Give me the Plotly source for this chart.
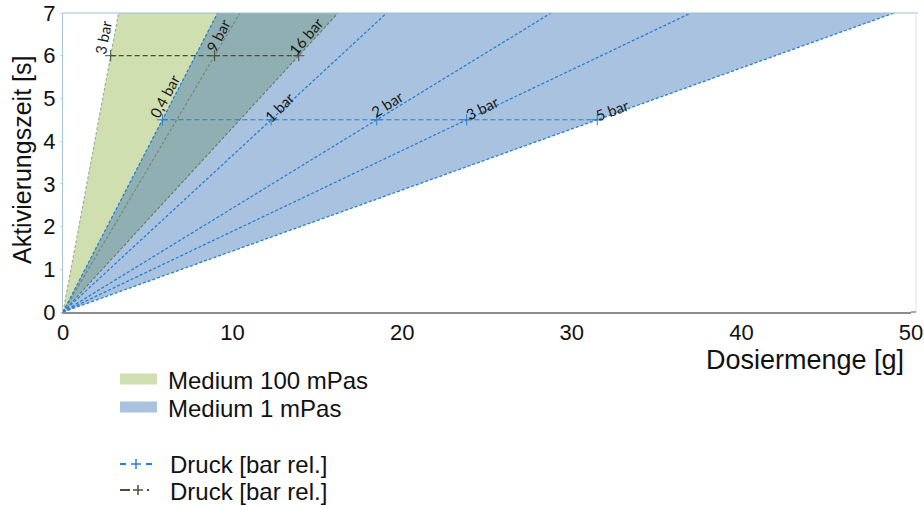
import plotly.graph_objects as go

# ---------------- data ----------------
t_max = 7.0
# Medium 1 mPas: dosing amount [g] reached at 4.5 s for each pressure
labels_1mPas = ["0,4 bar", "1 bar", "2 bar", "3 bar", "5 bar"]
dose_1mPas = [5.86, 12.27, 18.5, 23.8, 31.5]
t_ref_1mPas = 4.5
# Medium 100 mPas: dosing amount [g] reached at 6 s for each pressure
labels_100mPas = ["3 bar", "9 bar", "16 bar"]
dose_100mPas = [2.81, 8.94, 13.9]
t_ref_100mPas = 6.0

x_ticks = [0, 10, 20, 30, 40, 50]
y_ticks = [0, 1, 2, 3, 4, 5, 6, 7]

# ---------------- styles ----------------
GREEN_FILL = "rgb(207,223,176)"
BLUE_FILL = "rgb(169,194,223)"
OVERLAP_FILL = "rgb(143,175,178)"
BLUE_LINE = "rgb(38,128,212)"
OLIVE_LINE = "rgb(70,80,50)"
GREEN_LINES = ["rgb(160,168,150)", "rgb(120,132,118)", "rgb(104,122,96)"]
FONT = "Liberation Sans"

# plot area in page pixels (body margin removed via post_script)
W, H = 924, 506
L, R, T, B = 63, 911, 13, 312


def px(xp, yp):
    return (xp - L) / (R - L), (B - yp) / (B - T)


def top_x(dose, tref):
    return dose * t_max / tref


fig = go.Figure()

# --- regions ---
g_left = top_x(dose_100mPas[0], t_ref_100mPas)
g_right = top_x(dose_100mPas[-1], t_ref_100mPas)
b_left = top_x(dose_1mPas[0], t_ref_1mPas)
b_right = top_x(dose_1mPas[-1], t_ref_1mPas)

fig.add_trace(go.Scatter(x=[0, g_left, g_right, 0], y=[0, t_max, t_max, 0],
                         fill="toself", fillcolor=GREEN_FILL, mode="lines",
                         line=dict(width=0), hoverinfo="skip", showlegend=False))
fig.add_trace(go.Scatter(x=[0, b_left, b_right, 0], y=[0, t_max, t_max, 0],
                         fill="toself", fillcolor=BLUE_FILL, mode="lines",
                         line=dict(width=0), hoverinfo="skip", showlegend=False))
fig.add_trace(go.Scatter(x=[0, b_left, g_right, 0], y=[0, t_max, t_max, 0],
                         fill="toself", fillcolor=OVERLAP_FILL, mode="lines",
                         line=dict(width=0), hoverinfo="skip", showlegend=False))

# --- pressure lines 100 mPas ---
for d, c in zip(dose_100mPas, GREEN_LINES):
    fig.add_trace(go.Scatter(x=[0, top_x(d, t_ref_100mPas)], y=[0, t_max], mode="lines",
                             line=dict(color=c, width=1.1, dash="3px,2px"),
                             hoverinfo="skip", showlegend=False))

# --- pressure lines 1 mPas ---
for d in dose_1mPas:
    fig.add_trace(go.Scatter(x=[0, top_x(d, t_ref_1mPas)], y=[0, t_max], mode="lines",
                             line=dict(color=BLUE_LINE, width=1.3, dash="3px,2px"),
                             hoverinfo="skip", showlegend=False))

# --- horizontal reference lines ---
fig.add_trace(go.Scatter(x=dose_1mPas, y=[t_ref_1mPas] * len(dose_1mPas), mode="lines+markers",
                         line=dict(color=BLUE_LINE, width=1.1, dash="5px,3px"),
                         marker=dict(symbol="cross-thin", size=8, line=dict(color=BLUE_LINE, width=1)),
                         hoverinfo="skip", showlegend=False))
fig.add_trace(go.Scatter(x=dose_100mPas, y=[t_ref_100mPas] * len(dose_100mPas), mode="lines+markers",
                         line=dict(color=OLIVE_LINE, width=1.2, dash="5px,3px"),
                         marker=dict(symbol="cross-thin", size=8, line=dict(color=OLIVE_LINE, width=1)),
                         hoverinfo="skip", showlegend=False))

# --- rotated pressure labels ---
lab_style_100 = [(-8, 18, -79), (3, 20, -63), (7, 20, -50)]
lab_style_1 = [(2, 24, -62), (8, 13, -45), (10, 16, -33), (15, 12, -26), (15, 10, -20)]
for lab, d, (xs, ys, ang) in zip(labels_100mPas, dose_100mPas, lab_style_100):
    fig.add_annotation(x=d, y=t_ref_100mPas, text=lab, showarrow=False, textangle=ang,
                       xshift=xs, yshift=ys, xanchor="center", yanchor="middle",
                       font=dict(family="Lato", size=15, color="#1a1a1a"))
for lab, d, (xs, ys, ang) in zip(labels_1mPas, dose_1mPas, lab_style_1):
    fig.add_annotation(x=d, y=t_ref_1mPas, text=lab, showarrow=False, textangle=ang,
                       xshift=xs, yshift=ys, xanchor="center", yanchor="middle",
                       font=dict(family="Lato", size=15, color="#1a1a1a"))

# --- axis titles ---
xx, yy = px(22, 160)
fig.add_annotation(xref="paper", yref="paper", x=xx, y=yy, text="Aktivierungszeit [s]",
                   textangle=-90, showarrow=False, xanchor="center", yanchor="middle",
                   font=dict(family=FONT, size=25, color="#111"))
xx, yy = px(805, 360)
fig.add_annotation(xref="paper", yref="paper", x=xx, y=yy, text="Dosiermenge [g]",
                   showarrow=False, xanchor="center", yanchor="middle",
                   font=dict(family=FONT, size=27, color="#111"))

# --- frame lines ---
shapes = []
x0, y0 = px(L, T)
x1, _ = px(918, T)
shapes.append(dict(type="line", xref="paper", yref="paper", x0=x0, x1=x1, y0=y0, y1=y0,
                   line=dict(color="rgb(160,192,208)", width=1.2)))
xr, yb = px(916, B)
shapes.append(dict(type="line", xref="paper", yref="paper", x0=xr, x1=xr, y0=yb, y1=y0,
                   line=dict(color="rgb(225,225,225)", width=1)))
xe, _ = px(916, B)
shapes.append(dict(type="line", xref="paper", yref="paper", x0=1, x1=xe, y0=0, y1=0,
                   line=dict(color="rgb(140,140,140)", width=1.5)))

# --- custom legend ---
legend_fill = [("Medium 100 mPas", GREEN_FILL, 379), ("Medium 1 mPas", BLUE_FILL, 407)]
for text, col, yc in legend_fill:
    a0, b0 = px(120, yc - 5.5)
    a1, b1 = px(157, yc + 5.5)
    shapes.append(dict(type="rect", xref="paper", yref="paper", x0=a0, x1=a1, y0=b0, y1=b1,
                       fillcolor=col, line=dict(width=0)))
    tx, ty = px(166, yc + 1)
    fig.add_annotation(xref="paper", yref="paper", x=tx, y=ty, text=text, showarrow=False,
                       xanchor="left", yanchor="middle", font=dict(family=FONT, size=24, color="#111"))


def seg(xa, xb, yc, col, w=2):
    a0, b0 = px(xa, yc)
    a1, _ = px(xb, yc)
    return dict(type="line", xref="paper", yref="paper", x0=a0, x1=a1, y0=b0, y1=b0,
                line=dict(color=col, width=w))


def vseg(xc, ya, yb_, col, w=1.5):
    a0, b0 = px(xc, ya)
    _, b1 = px(xc, yb_)
    return dict(type="line", xref="paper", yref="paper", x0=a0, x1=a0, y0=b0, y1=b1,
                line=dict(color=col, width=w))


# blue: - + -
yc = 464
shapes += [seg(120, 126, yc, BLUE_LINE), seg(131, 141, yc, BLUE_LINE, 1.5), vseg(136, yc - 5, yc + 5, BLUE_LINE),
           seg(146, 152, yc, BLUE_LINE)]
# olive: - + .
yc = 490
shapes += [seg(120, 130, yc, OLIVE_LINE), seg(133, 143, yc, OLIVE_LINE, 1.5),
           vseg(138, yc - 5, yc + 5, OLIVE_LINE), seg(147, 149, yc, OLIVE_LINE)]
for yc in (465, 491):
    tx, ty = px(168, yc)
    fig.add_annotation(xref="paper", yref="paper", x=tx, y=ty, text="Druck [bar rel.]", showarrow=False,
                       xanchor="left", yanchor="middle", font=dict(family=FONT, size=24, color="#111"))

fig.update_layout(
    width=W, height=H,
    margin=dict(l=L, r=W - R, t=T, b=H - B, pad=0, autoexpand=False),
    plot_bgcolor="white", paper_bgcolor="white",
    shapes=shapes,
    xaxis=dict(range=[0, 50], tickvals=x_ticks, ticktext=[str(v) for v in x_ticks],
               automargin=False, ticklabeloverflow="allow",
               showgrid=False, zeroline=False, showline=True, linecolor="rgb(140,140,140)",
               linewidth=1.5, ticks="", tickfont=dict(family=FONT, size=22, color="#111")),
    yaxis=dict(range=[0, 7], tickvals=y_ticks, ticktext=[str(v) for v in y_ticks],
               automargin=False, ticklabeloverflow="allow",
               showgrid=False, zeroline=False, showline=True, linecolor="rgb(165,196,212)",
               linewidth=1.2, ticks="outside", ticklen=2, tickcolor="rgb(200,215,225)",
               tickfont=dict(family=FONT, size=22, color="#111")),
)

fig.write_html("out.html", config={"displayModeBar": False},
               post_script="document.body.style.margin='0';document.body.style.overflow='hidden';")
